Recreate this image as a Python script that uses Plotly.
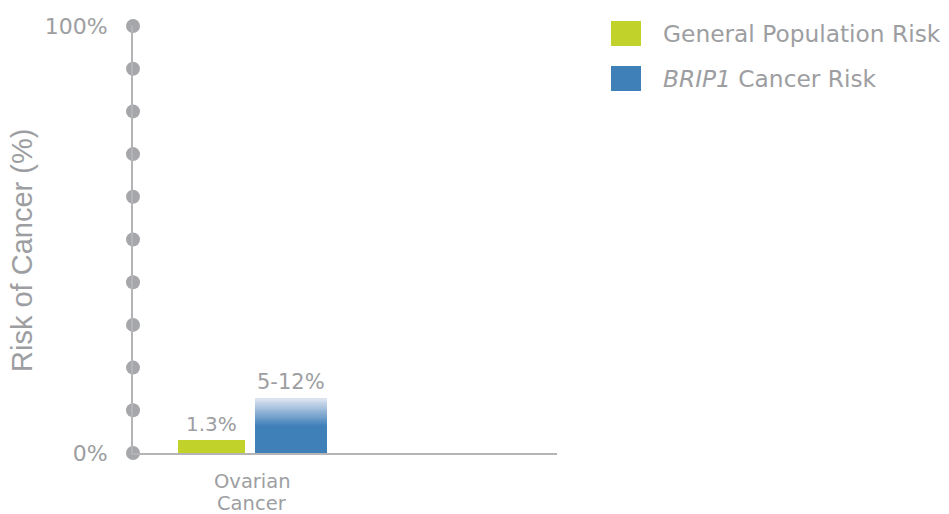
import plotly.graph_objects as go
import numpy as np

# ---- data ----
categories = ["Ovarian Cancer"]
general_label = ["1.3%"]
general_height = [3.0]          # drawn bar height (% scale) as in picture
brip1_label = ["5-12%"]
brip1_solid = [6.5]             # solid part of range bar
brip1_top = [12.8]              # top of faded part
y_ticks = [0, 100]
y_ticktext = ["0%", "100%"]
dot_levels = [0, 10, 20, 30, 40, 50, 60, 70, 80, 90, 100]
legend_names = ["General Population Risk", "<i>BRIP1</i> Cancer Risk"]
y_title = "Risk of Cancer (%)"

GREEN = "#c1d22b"
BLUE = "#4080b9"
LIGHT = "#dde4f1"
GREY_TXT = "#9d9ea1"
AXIS = "#b4b4b6"
DOT = "#a6a7aa"
FONT = "DejaVu Sans"
TITLE_FONT = "Liberation Sans"

fig = go.Figure()

xpos = list(range(len(categories)))

fig.add_trace(go.Bar(x=xpos, y=general_height, base=[0]*len(xpos),
                     offset=-0.31, width=0.28, marker_color=GREEN,
                     marker_line_width=0, name="General Population Risk",
                     showlegend=False, hoverinfo="skip"))
fig.add_trace(go.Bar(x=xpos, y=brip1_solid, base=[0]*len(xpos),
                     offset=0.013, width=0.30, marker_color=BLUE,
                     marker_line_width=0, name="BRIP1 Cancer Risk",
                     showlegend=False, hoverinfo="skip"))

# gradient part of the BRIP1 range bar
def hex2rgb(h):
    h = h.lstrip("#")
    return np.array([int(h[i:i+2], 16) for i in (0, 2, 4)], float)

c0, c1 = hex2rgb(BLUE), hex2rgb(LIGHT)
N = 30
for i in range(N):
    t = (i + 0.5) / N
    c = c0 + (c1 - c0) * t
    col = "rgb(%d,%d,%d)" % tuple(c.round())
    seg = [(top - s) / N for s, top in zip(brip1_solid, brip1_top)]
    bases = [s + i * d for s, d in zip(brip1_solid, seg)]
    fig.add_trace(go.Bar(x=xpos, y=[d * 1.02 for d in seg], base=bases,
                         offset=0.013, width=0.30, marker_color=col,
                         marker_line_width=0, showlegend=False,
                         hoverinfo="skip"))

# dots on y axis
fig.add_trace(go.Scatter(x=[-0.5]*len(dot_levels), y=dot_levels, mode="markers",
                         marker=dict(size=14, color=DOT), cliponaxis=False,
                         showlegend=False, hoverinfo="skip"))

# plot area spans screen px 133..557 horizontally, 26..453 vertically
W, H = 424.0, 427.0
def px_x(p): return (p - 133) / W
def px_y(p): return (453 - p) / H

annotations = []
for i, x in enumerate(xpos):
    annotations.append(dict(x=x - 0.31 + 0.14, y=general_height[i], text=general_label[i],
                            showarrow=False, yanchor="bottom", yshift=2,
                            font=dict(family=FONT, size=20, color=GREY_TXT)))
    annotations.append(dict(x=x + 0.013 + 0.15, y=brip1_top[i], text=brip1_label[i],
                            showarrow=False, yanchor="bottom", yshift=2,
                            font=dict(family=FONT, size=21, color=GREY_TXT)))
    # category label, one line per word with tight line spacing
    for j, word in enumerate(categories[i].split(" ")):
        annotations.append(dict(x=x, xref="x", yref="paper", y=px_y(481 + 22 * j),
                                text=word, showarrow=False, yanchor="middle",
                                height=20, valign="middle", borderpad=0,
                                font=dict(family=FONT, size=19.5, color=GREY_TXT)))

shapes = []
leg_colors = [GREEN, BLUE]
leg_tops = [21, 66]
for name, col, top in zip(legend_names, leg_colors, leg_tops):
    shapes.append(dict(type="rect", xref="paper", yref="paper",
                       x0=px_x(611), x1=px_x(641), y0=px_y(top + 25), y1=px_y(top),
                       fillcolor=col, line_width=0))
    annotations.append(dict(xref="paper", yref="paper", x=px_x(661), y=px_y(top + 12),
                            text=name, showarrow=False, xanchor="left", yanchor="middle",
                            font=dict(family=FONT, size=23.3, color=GREY_TXT)))

# y-axis title
annotations.append(dict(xref="paper", yref="paper", x=px_x(22), y=px_y(250),
                        text=y_title, textangle=-90, showarrow=False,
                        xanchor="center", yanchor="middle",
                        font=dict(family=TITLE_FONT, size=29, color=GREY_TXT)))

fig.update_layout(
    width=949, height=514,
    margin=dict(l=133, r=392, t=26, b=61, autoexpand=False),
    paper_bgcolor="white", plot_bgcolor="white",
    barmode="overlay", bargap=0,
    showlegend=False,
    annotations=annotations, shapes=shapes,
    font=dict(family=FONT, color=GREY_TXT),
    xaxis=dict(range=[-0.5, 1.28], tickvals=xpos, showticklabels=False,
               showgrid=False, zeroline=False, showline=True, linecolor=AXIS,
               linewidth=2, ticks="", automargin=False),
    yaxis=dict(range=[0, 100], tickvals=y_ticks, ticktext=y_ticktext,
               showgrid=False, zeroline=False, showline=True, linecolor=AXIS,
               linewidth=2, ticks="", ticklabelstandoff=19, automargin=False,
               tickfont=dict(family=FONT, size=22, color=GREY_TXT)),
)

fig.write_html("out.html", config={"displayModeBar": False},
               post_script="document.body.style.margin='0';document.body.style.overflow='hidden';")
